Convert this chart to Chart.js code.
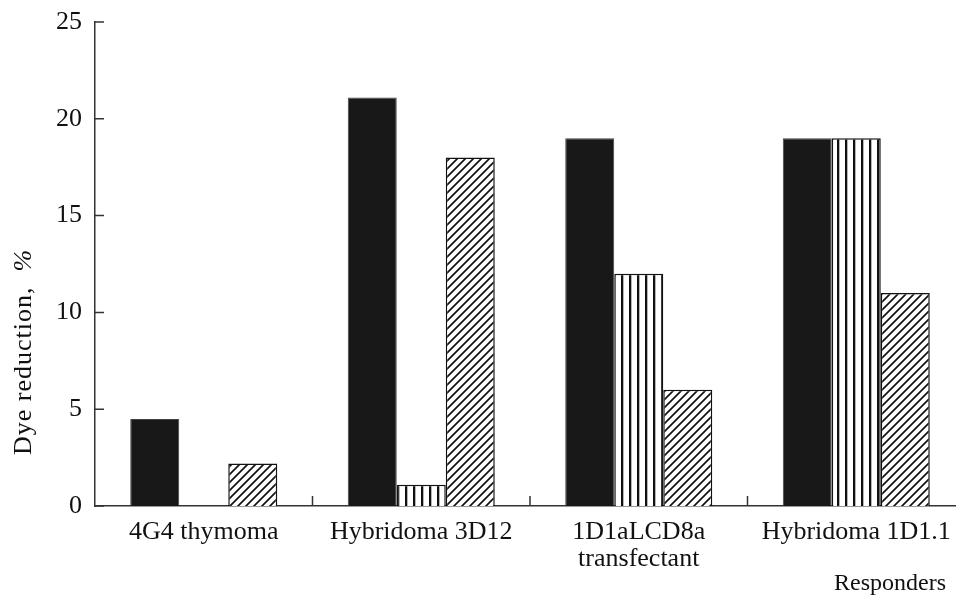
<!DOCTYPE html>
<html>
<head>
<meta charset="utf-8">
<script src="https://cdn.jsdelivr.net/npm/chart.js@4.4.1/dist/chart.umd.min.js"></script>
<style>
  html, body { margin: 0; padding: 0; background: #fff; overflow: hidden; }
  #wrap { width: 966px; height: 595px; }
</style>
</head>
<body>
<div id="wrap"><canvas id="dye-chart" width="966" height="595"></canvas></div>
<script>
// responders on the x axis
const responders = ['4G4 thymoma', 'Hybridoma 3D12', ['1D1aLCD8a', 'transfectant'], 'Hybridoma 1D1.1'];
// three series (dye reduction, %)
const solidValues = [4.5, 21.1, 19, 19];
const stripedValues = [0, 1.1, 12, 19];
const hatchedValues = [2.2, 18, 6, 11];
const yTicks = [0, 5, 10, 15, 20, 25];

const serif = "'Liberation Serif', 'DejaVu Serif', serif";
const canvas = document.getElementById('dye-chart');
const ctx = canvas.getContext('2d');

const makeStripes = () => {
  const t = document.createElement('canvas');
  t.width = 8; t.height = 8;
  const g = t.getContext('2d');
  g.fillStyle = '#fff';
  g.fillRect(0, 0, 8, 8);
  g.fillStyle = '#111';
  g.fillRect(5, 0, 2.3, 8);
  return ctx.createPattern(t, 'repeat');
};

const makeHatch = () => {
  const t = document.createElement('canvas');
  t.width = 8; t.height = 8;
  const g = t.getContext('2d');
  g.fillStyle = '#fff';
  g.fillRect(0, 0, 8, 8);
  g.strokeStyle = '#111';
  g.lineWidth = 1.7;
  g.beginPath();
  g.moveTo(-1, 9); g.lineTo(9, -1);
  g.moveTo(-5, 5); g.lineTo(5, -5);
  g.moveTo(3, 13); g.lineTo(13, 3);
  g.stroke();
  return ctx.createPattern(t, 'repeat');
};

// inward ticks, y label and the "Responders" caption
const extras = {
  id: 'extras',
  afterDraw(chart) {
    const { ctx, chartArea: a, scales: { x, y } } = chart;
    ctx.save();
    ctx.strokeStyle = '#333';
    ctx.lineWidth = 1.5;
    ctx.beginPath();
    yTicks.forEach(v => {
      const py = y.getPixelForValue(v);
      ctx.moveTo(a.left, py);
      ctx.lineTo(a.left + 9, py);
    });
    for (let i = 1; i < responders.length; i++) {
      const px = x.getPixelForValue(i - 0.5);
      ctx.moveTo(px, a.bottom);
      ctx.lineTo(px, a.bottom - 10);
    }
    ctx.stroke();

    ctx.fillStyle = '#111';
    ctx.textBaseline = 'alphabetic';
    ctx.letterSpacing = '1px';
    const plain = 'Dye reduction,  ';
    ctx.font = `26px ${serif}`;
    const w1 = ctx.measureText(plain).width;
    ctx.font = `italic 26px ${serif}`;
    const w2 = ctx.measureText('%').width;
    ctx.translate(31, 352);
    ctx.rotate(-Math.PI / 2);
    ctx.textAlign = 'left';
    ctx.font = `26px ${serif}`;
    ctx.fillText(plain, -(w1 + w2) / 2, 0);
    ctx.font = `italic 26px ${serif}`;
    ctx.fillText('%', -(w1 + w2) / 2 + w1, 0);
    ctx.restore();

    ctx.save();
    ctx.fillStyle = '#111';
    ctx.font = `24px ${serif}`;
    ctx.textAlign = 'right';
    ctx.textBaseline = 'alphabetic';
    ctx.fillText('Responders', 946, 590);
    ctx.restore();
  }
};

new Chart(ctx, {
  type: 'bar',
  data: {
    labels: responders,
    datasets: [
      { label: 'solid', data: solidValues, backgroundColor: '#181818', borderColor: '#444', borderWidth: 1 },
      { label: 'striped', data: stripedValues, backgroundColor: makeStripes(), borderColor: '#111', borderWidth: 1.5 },
      { label: 'hatched', data: hatchedValues, backgroundColor: makeHatch(), borderColor: '#111', borderWidth: 1.5 }
    ]
  },
  options: {
    responsive: false,
    animation: false,
    devicePixelRatio: 1,
    layout: { padding: { top: 22, right: 1, bottom: 0, left: 0 } },
    plugins: { legend: { display: false }, tooltip: { enabled: false } },
    datasets: { bar: { categoryPercentage: 0.676, barPercentage: 1 } },
    scales: {
      x: {
        grid: { display: false, drawTicks: false },
        border: { display: true, color: '#333', width: 1.5 },
        ticks: { color: '#111', font: { family: serif, size: 26, lineHeight: 1.04 }, padding: 13, maxRotation: 0, autoSkip: false },
        afterFit: scale => { scale.height = 89; }
      },
      y: {
        min: 0,
        max: 25,
        grid: { display: false, drawTicks: false },
        border: { display: true, color: '#333', width: 1.5 },
        ticks: { stepSize: 5, color: '#111', font: { family: serif, size: 26, lineHeight: 0.5 }, padding: 13 },
        afterFit: scale => { scale.width = 95; }
      }
    }
  },
  plugins: [extras]
});
</script>
</body>
</html>
